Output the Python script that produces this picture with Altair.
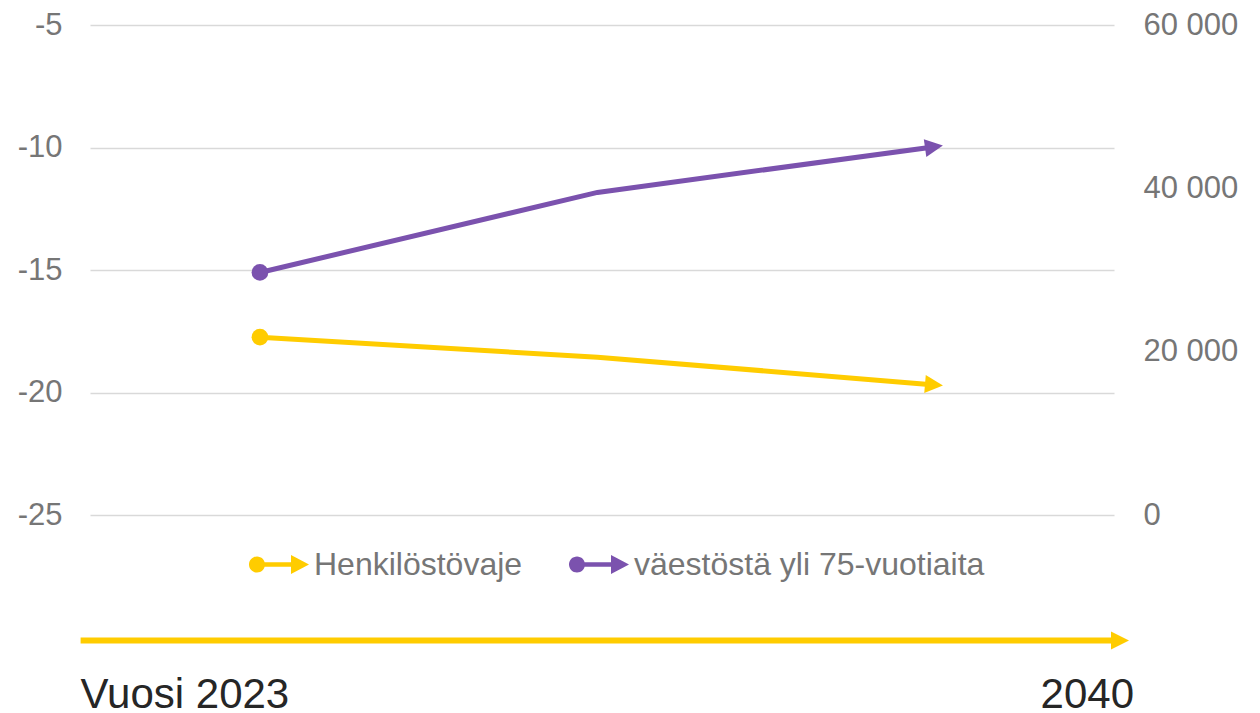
import altair as alt
import pandas as pd

# ---- data ----
periods = ["2023", "2030", "2040"]
henkilostovaje = [-17.74, -18.56, -19.69]
yli75 = [29700, 39500, 45100]
series_names = ["Henkilöstövaje", "väestöstä yli 75-vuotiaita"]
left_ticks = [-25, -20, -15, -10, -5]
right_ticks = [0, 20000, 40000, 60000]
timeline_years = [2023, 2040]
timeline_labels = ["Vuosi 2023", "2040"]

YELLOW = "#FFCC00"
PURPLE = "#7B52AE"
GREY = "#767676"
GRID = "#D9D9D9"
FONT = "Liberation Sans"

df_h = pd.DataFrame({"period": periods, "value": henkilostovaje, "series": series_names[0]})
df_p = pd.DataFrame({"period": periods, "value": yli75, "series": series_names[1]})
df_t = pd.DataFrame({"year": timeline_years, "label": timeline_labels})

ARROW = "M 0.89 0 L -1.11 -1 L -1.11 1 Z"
LEGEND_SYMBOL = (
    "M -1 0 A 0.267 0.267 0 1 1 -0.466 0 A 0.267 0.267 0 1 1 -1 0 Z "
    "M -0.733 -0.075 L 0.4 -0.075 L 0.4 -0.317 L 1 0 L 0.4 0.317 L 0.4 0.075 L -0.733 0.075 Z"
)

x_enc = alt.X("period:N", sort=periods,
              scale=alt.Scale(type="point", padding=0.517, align=0.487), axis=None)

color_scale = alt.Scale(domain=series_names, range=[YELLOW, PURPLE])
legend = alt.Legend(
    title=None, orient="none", direction="horizontal",
    legendX=159, legendY=509.5,
    symbolType=LEGEND_SYMBOL, symbolSize=3600, symbolStrokeWidth=0, symbolOpacity=1,
    labelFontSize=32, labelColor=GREY, labelFont=FONT, labelOffset=5, labelLimit=800,
    columnPadding=45, padding=0,
)

left_axis = alt.Axis(
    values=left_ticks, title=None, orient="left", grid=True, gridColor=GRID, gridWidth=1.3,
    domain=False, ticks=False, labelFontSize=31, labelColor=GREY, labelFont=FONT,
    labelPadding=28, labelExpr="'' + datum.value",
)
right_axis = alt.Axis(
    values=right_ticks, title=None, orient="right", grid=False,
    domain=False, ticks=False, labelFontSize=31, labelColor=GREY, labelFont=FONT,
    labelPadding=29,
    labelExpr="datum.value == 0 ? '0' : format(datum.value / 1000, 'd') + ' 000'",
)

y_left = alt.Y("value:Q", scale=alt.Scale(domain=[-25, -5]), axis=left_axis)
y_right = alt.Y("value:Q", scale=alt.Scale(domain=[0, 60000]), axis=right_axis)

# yellow series (left axis)
base_h = alt.Chart(df_h)
line_h = base_h.mark_line(color=YELLOW, strokeWidth=5).encode(x=x_enc, y=y_left)
start_h = base_h.mark_circle(size=280, opacity=1).encode(
    x=x_enc, y=y_left, color=alt.Color("series:N", scale=color_scale, legend=legend)
).transform_filter(alt.datum.period == periods[0])
end_h = base_h.mark_point(shape=ARROW, filled=True, size=81 * 4, opacity=1,
                          color=YELLOW, strokeWidth=0, angle=4.8).encode(
    x=x_enc, y=y_left
).transform_filter(alt.datum.period == periods[-1])
layer_h = alt.layer(line_h, start_h, end_h)

# purple series (right axis)
base_p = alt.Chart(df_p)
line_p = base_p.mark_line(color=PURPLE, strokeWidth=5).encode(x=x_enc, y=y_right)
start_p = base_p.mark_circle(size=280, opacity=1).encode(
    x=x_enc, y=y_right, color=alt.Color("series:N", scale=color_scale, legend=legend)
).transform_filter(alt.datum.period == periods[0])
end_p = base_p.mark_point(shape=ARROW, filled=True, size=81 * 4, opacity=1,
                          color=PURPLE, strokeWidth=0, angle=352.1).encode(
    x=x_enc, y=y_right
).transform_filter(alt.datum.period == periods[-1])
layer_p = alt.layer(line_p, start_p, end_p)

top = alt.layer(layer_h, layer_p).resolve_scale(y="independent").properties(width=1024, height=490)

# timeline
x_t = alt.X("year:Q", scale=alt.Scale(domain=[2023, 2040], range=[-9.4, 1031]), axis=None)
base_t = alt.Chart(df_t)
t_line = base_t.mark_line(color=YELLOW, strokeWidth=6).encode(x=x_t)
t_arrow = base_t.mark_point(shape=ARROW, filled=True, size=81 * 4, opacity=1,
                            color=YELLOW, strokeWidth=0).encode(x=x_t).transform_filter(
    alt.datum.year == timeline_years[-1])
t_text_l = base_t.mark_text(align="left", baseline="alphabetic", dy=67, fontSize=42,
                            color="#262626", font=FONT).encode(
    x=x_t, text="label:N").transform_filter(alt.datum.year == timeline_years[0])
t_text_r = base_t.mark_text(align="right", baseline="alphabetic", dy=67, dx=13, fontSize=42,
                            color="#262626", font=FONT).encode(
    x=x_t, text="label:N").transform_filter(alt.datum.year == timeline_years[-1])
bottom = alt.layer(t_line, t_arrow, t_text_l, t_text_r).properties(width=1024, height=40)

chart = alt.vconcat(top, bottom, spacing=105.5, bounds="flush").resolve_legend(
    color="independent"
).properties(
    padding={"left": 9, "top": 1, "right": 5, "bottom": 5}
).configure(font=FONT).configure_view(stroke=None)

chart.save("out.html", embed_options={"renderer": "svg", "actions": False})
